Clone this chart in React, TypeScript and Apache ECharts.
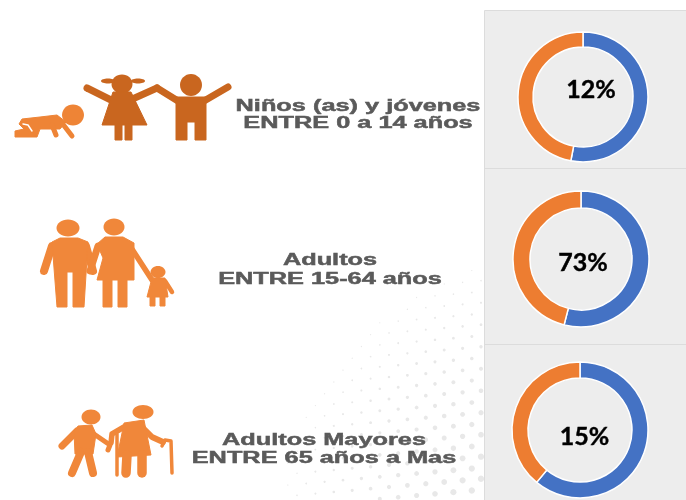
import React, { useEffect, useRef } from "react";
import * as echarts from "echarts";

const blueValues = [53, 54, 61];
const orangeValues = [47, 46, 39];
const centerLabels = ["12%", "73%", "15%"];
const groupLines = [
  ["Niños (as) y jóvenes", "ENTRE 0 a 14 años"],
  ["Adultos", "ENTRE 15-64 años"],
  ["Adultos Mayores", "ENTRE 65 años a Mas"],
];

const DARK = "#c9661f";
const MID = "#ee8436";
const LIGHT = "#f0873a";

const ell = (cx: number, cy: number, rx: number, ry: number, fill: string) => ({
  type: "ellipse", shape: { cx, cy, rx, ry }, style: { fill }, z: 3,
});
const poly = (pts: number[][], fill: string) => ({
  type: "polygon", shape: { points: pts }, style: { fill, stroke: fill, lineWidth: 1, lineJoin: "round" }, z: 3,
});
const limb = (pts: number[][], w: number, stroke: string) => ({
  type: "polyline", shape: { points: pts },
  style: { stroke, lineWidth: w, fill: "none", lineCap: "round", lineJoin: "round" }, z: 3,
});

function icons() {
  return [
    // baby
    ell(73, 115, 11, 10.5, MID),
    poly([[22, 119], [40, 117], [57, 115], [66, 122], [60, 129], [40, 129], [37, 137], [15, 137], [15, 131], [24, 129], [19, 124]], MID),
    limb([[62, 123], [72, 136]], 5, MID),
    limb([[52, 125], [56, 135]], 5, MID),
    limb([[23, 124], [28, 125], [32, 131]], 1.5, "#ffffff"),
    // girl
    ell(122, 84, 10.5, 9.5, DARK),
    ell(108, 81, 7, 2.5, DARK),
    ell(138, 81, 7, 2.5, DARK),
    limb([[87, 88], [113, 101]], 7, DARK),
    limb([[128, 101], [157, 88]], 7, DARK),
    poly([[113, 92], [131, 92], [147, 125], [102, 125]], DARK),
    poly([[115, 124], [122, 124], [122, 140], [115, 140]], DARK),
    poly([[125, 124], [132, 124], [132, 140], [125, 140]], DARK),
    // boy
    ell(191, 85, 11, 11, DARK),
    limb([[157, 88], [178, 101]], 7, DARK),
    limb([[204, 101], [228, 87]], 7, DARK),
    poly([[176, 97], [206, 97], [206, 140], [195, 140], [195, 122], [187, 122], [187, 140], [176, 140]], DARK),
    // man
    ell(68, 228, 11.5, 8.5, LIGHT),
    limb([[52, 246], [44, 271]], 8, LIGHT),
    limb([[86, 246], [93, 271]], 8, LIGHT),
    poly([[60, 238], [78, 238], [88, 242], [84, 307], [73, 307], [73, 272], [67, 272], [67, 307], [57, 307], [52, 242]], LIGHT),
    // woman
    ell(114, 227, 10.5, 8.5, LIGHT),
    limb([[98, 246], [90, 271]], 7, LIGHT),
    limb([[130, 246], [152, 280]], 5.5, LIGHT),
    poly([[105, 237], [123, 237], [134, 243], [134, 280], [97, 280], [103, 258], [97, 244]], LIGHT),
    poly([[103, 278], [112, 278], [112, 307], [103, 307]], LIGHT),
    poly([[118, 278], [127, 278], [127, 307], [118, 307]], LIGHT),
    // child
    ell(158, 272, 7.5, 6, LIGHT),
    limb([[165, 281], [172, 292]], 4.5, LIGHT),
    poly([[152, 278], [165, 278], [168, 297], [147, 297]], LIGHT),
    poly([[150, 295], [155, 295], [155, 306], [150, 306]], LIGHT),
    poly([[160, 295], [165, 295], [165, 306], [160, 306]], LIGHT),
    // old man
    ell(91, 417, 9.5, 7.5, LIGHT),
    limb([[77, 431], [62, 446]], 7, LIGHT),
    limb([[91, 432], [110, 445], [108, 450]], 5, LIGHT),
    poly([[78, 426], [92, 425], [96, 434], [93, 454], [75, 454], [74, 432]], LIGHT),
    limb([[81, 452], [72, 473]], 8, LIGHT),
    limb([[88, 452], [93, 473]], 8, LIGHT),
    // old woman
    ell(143, 412, 10.5, 7, LIGHT),
    limb([[124, 427], [112, 434], [111, 443]], 5.5, LIGHT),
    limb([[142, 427], [152, 437], [163, 442]], 6, LIGHT),
    poly([[124, 423], [144, 420], [148, 440], [151, 455], [117, 457], [121, 438]], LIGHT),
    limb([[127, 455], [126, 473]], 9.5, LIGHT),
    limb([[142, 455], [142, 473]], 9.5, LIGHT),
    limb([[162, 446], [165, 440], [171, 441], [172, 473]], 3.5, LIGHT),
    limb([[117, 434], [117, 475]], 3.5, LIGHT),
  ];
}

function halftone() {
  const out: any[] = [];
  for (let r = 0; r < 30; r++) {
    for (let c = 0; c < 16; c++) {
      const x = 205 + c * 18.4 + (r % 2) * 9.2;
      const y = 220 + r * 11 - (x - 200) * 0.09 + 20;
      if (x > 482 || y > 500) continue;
      const d = Math.hypot(x - 570, y - 545);
      if (d > 295) continue;
      const radius = Math.min(3.2, 0.5 + (295 - d) / 65);
      out.push({
        type: "circle", shape: { cx: x, cy: y, r: radius },
        style: { fill: "#e8e8e8" }, z: 0, silent: true,
      });
    }
  }
  return out;
}

const textPos = [
  { x: 358, y1: 105, y2: 122 },
  { x: 330, y1: 259, y2: 278 },
  { x: 324, y1: 439, y2: 457 },
];
const separators = [168.5, 344.5];
const pies = [
  { c: [583, 97], r: [50, 65], label: [591, 88] },
  { c: [581, 259], r: [51, 68], label: [583, 261] },
  { c: [580, 430], r: [52, 68], label: [584.5, 435] },
];

export default function App() {
  const ref = useRef<HTMLDivElement>(null);
  useEffect(() => {
    const chart = echarts.init(ref.current!, null, { renderer: "svg" });
    const graphic: any[] = [
      ...halftone(),
      {
        type: "rect", shape: { x: 484.5, y: 10.5, width: 202, height: 490 },
        style: { fill: "#ededed", stroke: "#dcdcdc", lineWidth: 1 }, z: 1,
      },
      ...separators.map((y) => ({
        type: "line", shape: { x1: 484, y1: y, x2: 686, y2: y },
        style: { stroke: "#dcdcdc", lineWidth: 1 }, z: 1,
      })),
      ...icons(),
    ];
    groupLines.forEach((lines, i) => {
      const t = textPos[i];
      lines.forEach((line, j) => {
        graphic.push({
          type: "text", x: t.x, y: j === 0 ? t.y1 : t.y2,
          scaleX: 1.49,
          style: {
            text: line, fill: "#5a5a5a", stroke: "#5a5a5a", lineWidth: 0.5,
            align: "center", verticalAlign: "middle",
            font: 'bold 17px "Liberation Sans", Arial, sans-serif',
          }, z: 5,
        });
      });
      graphic.push({
        type: "text", x: pies[i].label[0], y: pies[i].label[1],
        style: {
          text: centerLabels[i], fill: "#000000", stroke: "#000000", lineWidth: 0.4,
          align: "center", verticalAlign: "middle",
          font: 'bold 25px Lato, "Open Sans", sans-serif',
        }, z: 6,
      });
    });
    chart.setOption({
      animation: false,
      backgroundColor: "#ffffff",
      graphic: { elements: graphic },
      series: pies.map((p, i) => ({
        type: "pie", center: p.c, radius: p.r, startAngle: 90, clockwise: true,
        silent: true, label: { show: false }, labelLine: { show: false }, z: 3,
        itemStyle: { borderColor: "#ffffff", borderWidth: 1.5 },
        data: [
          { value: blueValues[i], name: "Azul", itemStyle: { color: "#4472c4" } },
          { value: orangeValues[i], name: "Naranja", itemStyle: { color: "#ed7d31" } },
        ],
      })),
    });
    return () => chart.dispose();
  }, []);
  return (
    <div
      ref={ref}
      style={{ position: "absolute", left: 0, top: 0, width: 686, height: 500, filter: "blur(0.5px)" }}
    />
  );
}
